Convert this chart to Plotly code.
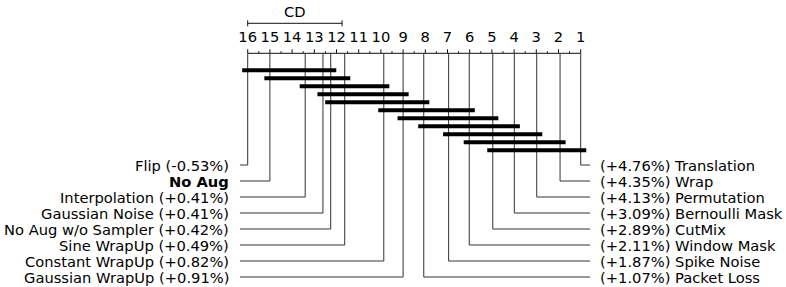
import plotly.graph_objects as go

# ---------------- data ----------------
methods = ["Flip", "No Aug", "Interpolation", "Gaussian Noise", "No Aug w/o Sampler",
           "Sine WrapUp", "Constant WrapUp", "Gaussian WrapUp",
           "Packet Loss", "Spike Noise", "Window Mask", "CutMix",
           "Bernoulli Mask", "Permutation", "Wrap", "Translation"]
gains = ["-0.53%", None, "+0.41%", "+0.41%", "+0.42%", "+0.49%", "+0.82%", "+0.91%",
         "+1.07%", "+1.87%", "+2.11%", "+2.89%", "+3.09%", "+4.13%", "+4.35%", "+4.76%"]
avg_ranks = [16.0, 15.0, 13.41, 12.61, 12.26, 11.63, 9.87, 9.0,
             8.07, 6.95, 6.02, 4.96, 3.99, 2.98, 1.93, 1.0]
clique_start = [0, 1, 2, 3, 4, 6, 7, 8, 9, 10, 11]
clique_end = [4, 5, 6, 7, 8, 10, 11, 12, 13, 14, 15]
cd_value = 4.25
n_methods = 16
tick_labels = [str(k) for k in range(n_methods, 0, -1)]

# ---------------- layout constants ----------------
W, H = 786, 287
px_per_rank = 22.2
x16 = 247.7
rank_lo = n_methods + x16 / px_per_rank
rank_hi = n_methods - (W - x16) / px_per_rank
AXIS_Y = 53.3
CLIQUE_Y0, CLIQUE_DY = 70.3, 8.0
LABEL_Y0, LABEL_DY = 165.0, 16.0
FONT = "DejaVu Sans"
FS = 14.7
LINE_C = "#111"

fig = go.Figure()

def add_line(xs, ys, width=1, color=LINE_C):
    fig.add_trace(go.Scatter(x=xs, y=ys, mode="lines", line=dict(color=color, width=width),
                             hoverinfo="skip", showlegend=False))

# axis line
add_line([n_methods, 1], [AXIS_Y, AXIS_Y])
# ticks
tx, ty = [], []
for k in range(1, n_methods + 1):
    tx += [k, k, None]
    ty += [AXIS_Y - 4, AXIS_Y, None]
for k in range(1, n_methods):
    tx += [k + 0.5, k + 0.5, None]
    ty += [AXIS_Y - 2, AXIS_Y, None]
add_line(tx, ty)
# tick labels
fig.add_trace(go.Scatter(x=list(range(n_methods, 0, -1)), y=[38] * n_methods, mode="text",
                         text=tick_labels, textfont=dict(family=FONT, size=FS, color="black"),
                         hoverinfo="skip", showlegend=False))

# CD bar
cd_y = 23.3
add_line([n_methods, n_methods - cd_value], [cd_y, cd_y])
add_line([n_methods, n_methods, None, n_methods - cd_value, n_methods - cd_value],
         [cd_y - 3, cd_y + 3, None, cd_y - 3, cd_y + 3])
fig.add_annotation(x=n_methods - cd_value / 2, y=11, text="CD", showarrow=False,
                   font=dict(family=FONT, size=FS, color="black"), xanchor="center", yanchor="middle")

# connectors + labels
half = n_methods // 2
left_end = n_methods + (x16 - 240) / px_per_rank
right_end = 1 - (590 - (x16 + 15 * px_per_rank)) / px_per_rank
left_text_x = n_methods + (x16 - 231) / px_per_rank
right_text_x = 1 - (598 - (x16 + 15 * px_per_rank)) / px_per_rank
cx, cy = [], []
for i in range(half):
    r = avg_ranks[i]
    y = LABEL_Y0 + LABEL_DY * i
    cx += [r, r, left_end, None]
    cy += [AXIS_Y, y, y, None]
    txt = f"<b>{methods[i]}</b>" if gains[i] is None else f"{methods[i]} ({gains[i]})"
    fig.add_annotation(x=left_text_x, y=y, text=txt, showarrow=False, xanchor="right",
                       yanchor="middle", font=dict(family=FONT, size=FS, color="black"))
for j in range(half):
    i = n_methods - 1 - j
    r = avg_ranks[i]
    y = LABEL_Y0 + LABEL_DY * j
    cx += [r, r, right_end, None]
    cy += [AXIS_Y, y, y, None]
    fig.add_annotation(x=right_text_x, y=y, text=f"({gains[i]}) {methods[i]}", showarrow=False,
                       xanchor="left", yanchor="middle", font=dict(family=FONT, size=FS, color="black"))
add_line(cx, cy, width=1, color="#333")

# cliques
pad = 0.25
qx, qy = [], []
for c, (s, e) in enumerate(zip(clique_start, clique_end)):
    y = CLIQUE_Y0 + CLIQUE_DY * c
    qx += [avg_ranks[s] + pad, avg_ranks[e] - pad, None]
    qy += [y, y, None]
add_line(qx, qy, width=4, color="black")

fig.update_layout(width=W, height=H, margin=dict(l=0, r=0, t=0, b=0),
                  paper_bgcolor="white", plot_bgcolor="white",
                  xaxis=dict(range=[rank_lo, rank_hi], visible=False, fixedrange=True),
                  yaxis=dict(range=[H, 0], visible=False, fixedrange=True))
fig.write_html("out.html", config={"displayModeBar": False},
               post_script="document.body.style.margin='0';document.body.style.overflow='hidden';")
